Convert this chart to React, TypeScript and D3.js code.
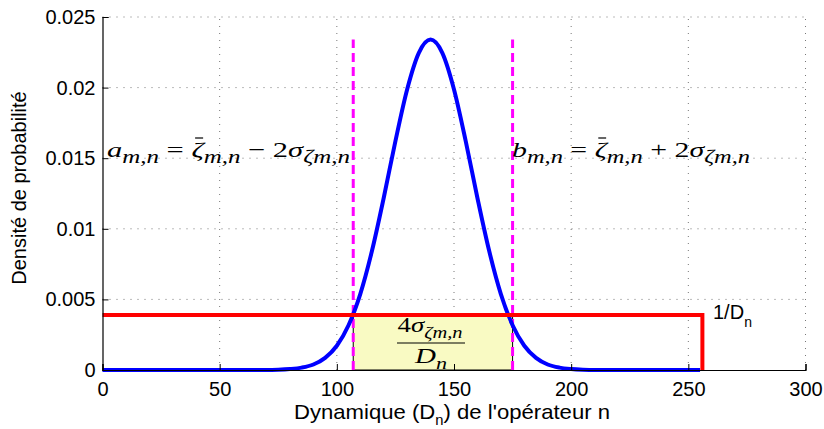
import React, { useEffect, useRef } from "react";
import * as d3 from "d3";

// density curve
const densX = [0, 70, 75, 80, 85, 90, 95, 100, 105, 110, 115, 120, 125, 130, 135, 140, 145, 150, 155, 160, 165, 170, 175, 180, 185, 190, 195, 200, 205, 210, 255];
const densY = [0, 0, 0.00002, 0.00007, 0.00017, 0.00039, 0.00086, 0.00172, 0.00317, 0.00538, 0.00844, 0.01218, 0.01621, 0.01987, 0.02246, 0.0234, 0.02246, 0.01987, 0.01621, 0.01218, 0.00844, 0.00538, 0.00317, 0.00172, 0.00086, 0.00039, 0.00017, 0.00007, 0.00002, 0, 0];

// uniform density 1/Dn
const unifX = [0, 256, 256];
const unifY = [0.0039, 0.0039, 0];

// bounds a and b
const boundA = 107;
const boundB = 175;
const boundTop = 0.0234;

const xTicks = [0, 50, 100, 150, 200, 250, 300];
const yTicks = [0, 0.005, 0.01, 0.015, 0.02, 0.025];

const SANS = "'Liberation Sans', Arial, Helvetica, sans-serif";
const SERIF = "'Liberation Serif', 'Times New Roman', serif";

type Part = { t: string; sub?: boolean; it?: boolean; bar?: boolean };

// draws a LaTeX-like formula, stretched to the width it has in the picture
function mathText(g: any, parts: Part[], x: number, y: number, size: number, subSize: number, anchor: string, width: number) {
  const t = g
    .append("text")
    .attr("x", x)
    .attr("y", y)
    .attr("font-family", SERIF)
    .attr("font-size", size)
    .attr("text-anchor", anchor)
    .attr("textLength", width)
    .attr("lengthAdjust", "spacingAndGlyphs");
  let down = false;
  let idx = 0;
  const bars: number[] = [];
  parts.forEach(p => {
    const s = t.append("tspan").text(p.t);
    if (p.it) s.attr("font-style", "italic");
    if (p.sub && !down) {
      s.attr("dy", size * 0.28).attr("font-size", subSize);
      down = true;
    } else if (p.sub) {
      s.attr("font-size", subSize);
    } else if (down) {
      s.attr("dy", -size * 0.28);
      down = false;
    }
    if (p.bar) bars.push(idx);
    idx += p.t.length;
  });
  const node = t.node() as SVGTextElement;
  bars.forEach(i => {
    const e = node.getExtentOfChar(i);
    g.append("line")
      .attr("x1", e.x + e.width * 0.3)
      .attr("x2", e.x + e.width * 0.95)
      .attr("y1", e.y + 1)
      .attr("y2", e.y + 1)
      .attr("stroke", "#000")
      .attr("stroke-width", 1.2);
  });
  return t;
}

export default function App() {
  const ref = useRef<SVGSVGElement>(null);

  useEffect(() => {
    const svg = d3.select(ref.current);
    svg.selectAll("*").remove();

    const x = d3.scaleLinear().domain([0, 300]).range([102.5, 805.5]);
    const y = d3.scaleLinear().domain([0, 0.025]).range([370, 17]);

    // grid
    const grid = svg.append("g");
    grid
      .selectAll("line.gx")
      .data(xTicks.slice(1))
      .enter()
      .append("line")
      .attr("x1", d => x(d))
      .attr("x2", d => x(d))
      .attr("y1", y(0))
      .attr("y2", y(0.025))
      .attr("stroke", "#777")
      .attr("stroke-width", 1)
      .attr("stroke-dasharray", "1,6");
    grid
      .selectAll("line.gy")
      .data(yTicks.slice(1))
      .enter()
      .append("line")
      .attr("x1", x(0))
      .attr("x2", x(300))
      .attr("y1", d => y(d))
      .attr("y2", d => y(d))
      .attr("stroke", "#777")
      .attr("stroke-width", 1)
      .attr("stroke-dasharray", "1,6");

    // shaded area between the bounds
    svg
      .append("rect")
      .attr("x", x(boundA))
      .attr("y", y(unifY[0]))
      .attr("width", x(boundB) - x(boundA))
      .attr("height", y(0) - y(unifY[0]))
      .attr("fill", "#f9fac3")
      .attr("stroke", "#000")
      .attr("stroke-width", 1);

    // dashed bounds
    svg
      .selectAll("line.bound")
      .data([boundA, boundB])
      .enter()
      .append("line")
      .attr("x1", d => x(d))
      .attr("x2", d => x(d))
      .attr("y1", y(0))
      .attr("y2", y(boundTop))
      .attr("stroke", "#ff00ff")
      .attr("stroke-width", 3)
      .attr("stroke-dasharray", "9,5");

    const pts: [number, number][] = densX.map((d, i) => [d, densY[i]]);
    const line = d3
      .line<[number, number]>()
      .x(d => x(d[0]))
      .y(d => y(d[1]))
      .curve(d3.curveMonotoneX);
    svg
      .append("path")
      .attr("d", line(pts))
      .attr("fill", "none")
      .attr("stroke", "#0000ff")
      .attr("stroke-width", 4);

    const upts: [number, number][] = unifX.map((d, i) => [d, unifY[i]]);
    svg
      .append("path")
      .attr("d", d3.line<[number, number]>().x(d => x(d[0])).y(d => y(d[1]))(upts))
      .attr("fill", "none")
      .attr("stroke", "#ff0000")
      .attr("stroke-width", 4);

    // axes
    const xAxis = d3
      .axisBottom(x)
      .tickValues(xTicks)
      .tickSize(-6)
      .tickPadding(12)
      .tickFormat(d3.format("d") as any);
    const gx = svg.append("g").attr("transform", "translate(0," + y(0) + ")").call(xAxis);
    const yAxis = d3
      .axisLeft(y)
      .tickValues(yTicks)
      .tickSize(-6)
      .tickPadding(7)
      .tickFormat(d => String(d));
    const gy = svg.append("g").attr("transform", "translate(" + x(0) + ",0)").call(yAxis);
    [gx, gy].forEach(g => {
      g.select(".domain").attr("stroke", "#000").attr("stroke-width", 1.2);
      g.selectAll(".tick line").attr("stroke", "#000");
      g.selectAll(".tick text").attr("font-family", SANS).attr("font-size", 20).attr("fill", "#000");
    });

    // axis titles
    const xt = svg
      .append("text")
      .attr("x", 452)
      .attr("y", 419)
      .attr("text-anchor", "middle")
      .attr("font-family", SANS)
      .attr("font-size", 21)
      .attr("textLength", 316)
      .attr("lengthAdjust", "spacingAndGlyphs");
    xt.append("tspan").text("Dynamique (D");
    xt.append("tspan").text("n").attr("font-size", 14).attr("dy", 6);
    xt.append("tspan").text(") de l'opérateur n").attr("dy", -6);

    svg
      .append("text")
      .attr("transform", "translate(26,188) rotate(-90)")
      .attr("text-anchor", "middle")
      .attr("font-family", SANS)
      .attr("font-size", 20)
      .text("Densité de probabilité");

    // 1/Dn label
    const lt = svg
      .append("text")
      .attr("x", 713)
      .attr("y", 319)
      .attr("font-family", SANS)
      .attr("font-size", 20);
    lt.append("tspan").text("1/D");
    lt.append("tspan").text("n").attr("font-size", 14).attr("dy", 8);

    // formulas
    mathText(
      svg,
      [
        { t: "a", it: true },
        { t: "m,n", it: true, sub: true },
        { t: " = " },
        { t: "\u03b6", it: true, bar: true },
        { t: "m,n", it: true, sub: true },
        { t: " \u2212 2" },
        { t: "\u03c3", it: true },
        { t: "\u03b6m,n", it: true, sub: true }
      ],
      107,
      157,
      22,
      18,
      "start",
      243
    );
    mathText(
      svg,
      [
        { t: "b", it: true },
        { t: "m,n", it: true, sub: true },
        { t: " = " },
        { t: "\u03b6", it: true, bar: true },
        { t: "m,n", it: true, sub: true },
        { t: " + 2" },
        { t: "\u03c3", it: true },
        { t: "\u03b6m,n", it: true, sub: true }
      ],
      512,
      157,
      22,
      18,
      "start",
      238
    );

    // fraction inside the shaded area
    mathText(
      svg,
      [
        { t: "4" },
        { t: "\u03c3", it: true },
        { t: "\u03b6m,n", it: true, sub: true }
      ],
      430,
      332,
      21,
      16,
      "middle",
      65
    );
    svg
      .append("line")
      .attr("x1", 397)
      .attr("x2", 465)
      .attr("y1", 343)
      .attr("y2", 343)
      .attr("stroke", "#000")
      .attr("stroke-width", 1.2);
    mathText(
      svg,
      [
        { t: "D", it: true },
        { t: "n", it: true, sub: true }
      ],
      431,
      363,
      21,
      16,
      "middle",
      32
    );
  }, []);

  return (
    <svg
      ref={ref}
      width={824}
      height={429}
      style={{ position: "absolute", left: 0, top: 0, background: "#fff" }}
    />
  );
}
